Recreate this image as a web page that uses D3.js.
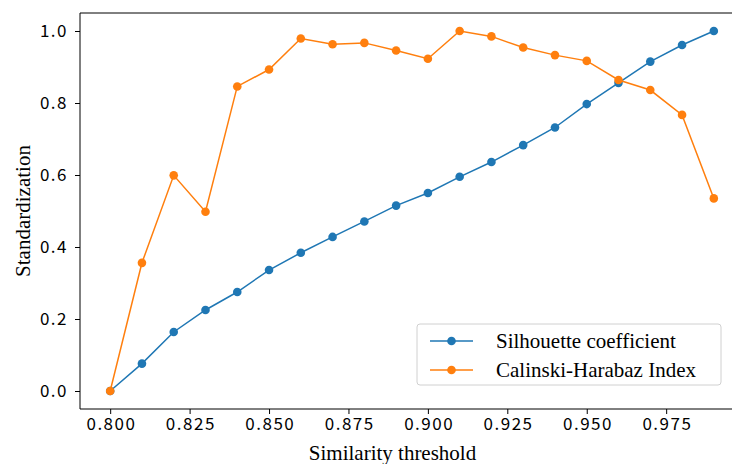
<!DOCTYPE html>
<html>
<head>
<meta charset="utf-8">
<script src="https://cdn.jsdelivr.net/npm/d3@7"></script>
<style>
  body { margin: 0; background: #fff; }
  svg { display: block; }
</style>
</head>
<body>
<div id="chart"></div>
<script>
const thresholds = [0.80, 0.81, 0.82, 0.83, 0.84, 0.85, 0.86, 0.87, 0.88, 0.89,
  0.90, 0.91, 0.92, 0.93, 0.94, 0.95, 0.96, 0.97, 0.98, 0.99];
const silhouette = [0.000, 0.076, 0.164, 0.225, 0.275, 0.336, 0.384, 0.428, 0.471, 0.515,
  0.550, 0.595, 0.636, 0.683, 0.732, 0.797, 0.856, 0.915, 0.961, 1.000];
const calinski = [0.000, 0.356, 0.599, 0.498, 0.846, 0.893, 0.979, 0.963, 0.967, 0.946,
  0.923, 1.000, 0.985, 0.954, 0.933, 0.917, 0.864, 0.836, 0.767, 0.535];
const xTicks = [0.800, 0.825, 0.850, 0.875, 0.900, 0.925, 0.950, 0.975];
const yTicks = [0.0, 0.2, 0.4, 0.6, 0.8, 1.0];

const series = [
  { name: "Silhouette coefficient", values: silhouette, color: "#1f77b4" },
  { name: "Calinski-Harabaz Index", values: calinski, color: "#ff7f0e" }
];

const width = 732, height = 464;
const plot = { left: 80, right: 744, top: 13, bottom: 409 };

const tickFont = '"Noto Sans CJK SC"';
const serif = '"Liberation Serif"';

const svg = d3.select("#chart").append("svg")
  .attr("width", width)
  .attr("height", height);

const x = d3.scaleLinear().domain([0.7905, 0.9995]).range([plot.left, plot.right]);
const y = d3.scaleLinear().domain([-0.05, 1.05]).range([plot.bottom, plot.top]);

// x axis
const xAxis = svg.append("g")
  .attr("transform", `translate(0,${plot.bottom})`)
  .call(d3.axisBottom(x).tickValues(xTicks).tickFormat(d3.format(".3f")).tickSize(5).tickPadding(4));
xAxis.select(".domain").remove();
xAxis.selectAll(".tick line").attr("stroke", "#000");
xAxis.selectAll("text")
  .style("font-family", tickFont)
  .style("font-size", "17px")
  .style("letter-spacing", "1.5px")
  .attr("dx", "0.75px")
  .attr("fill", "#000");

// y axis
const yAxis = svg.append("g")
  .attr("transform", `translate(${plot.left},0)`)
  .call(d3.axisLeft(y).tickValues(yTicks).tickFormat(d3.format(".1f")).tickSize(5).tickPadding(7));
yAxis.select(".domain").remove();
yAxis.selectAll(".tick line").attr("stroke", "#000");
yAxis.selectAll("text")
  .style("font-family", tickFont)
  .style("font-size", "17px")
  .style("letter-spacing", "1.5px")
  .attr("fill", "#000");

// spines
svg.append("path")
  .attr("d", `M${plot.left},${plot.top}H${plot.right}M${plot.left},${plot.top}V${plot.bottom}H${plot.right}`)
  .attr("fill", "none")
  .attr("stroke", "#000")
  .attr("stroke-width", 1);

// lines + markers
const line = d3.line()
  .x((d, i) => x(thresholds[i]))
  .y(d => y(d));

series.forEach(s => {
  svg.append("path")
    .datum(s.values)
    .attr("fill", "none")
    .attr("stroke", s.color)
    .attr("stroke-width", 1.5)
    .attr("d", line);

  svg.selectAll(null)
    .data(s.values)
    .enter().append("circle")
    .attr("cx", (d, i) => x(thresholds[i]))
    .attr("cy", d => y(d))
    .attr("r", 4.3)
    .attr("fill", s.color);
});

// axis labels
svg.append("text")
  .attr("x", 392.5)
  .attr("y", 460)
  .attr("text-anchor", "middle")
  .style("font-family", serif)
  .style("font-size", "21px")
  .text("Similarity threshold");

svg.append("text")
  .attr("transform", `translate(30,211) rotate(-90)`)
  .attr("text-anchor", "middle")
  .style("font-family", serif)
  .style("font-size", "21px")
  .text("Standardization");

// legend
const legend = svg.append("g");
legend.append("rect")
  .attr("x", 417).attr("y", 324)
  .attr("width", 304).attr("height", 61)
  .attr("rx", 3)
  .attr("fill", "#fff").attr("fill-opacity", 0.8)
  .attr("stroke", "#d0d0d0");

series.forEach((s, i) => {
  const ly = 341 + i * 29;
  legend.append("line")
    .attr("x1", 430).attr("x2", 473)
    .attr("y1", ly).attr("y2", ly)
    .attr("stroke", s.color).attr("stroke-width", 1.5);
  legend.append("circle")
    .attr("cx", 451.5).attr("cy", ly).attr("r", 4.3)
    .attr("fill", s.color);
  legend.append("text")
    .attr("x", 496).attr("y", ly + 7)
    .style("font-family", serif)
    .style("font-size", "21px")
    .text(s.name);
});
</script>
</body>
</html>
